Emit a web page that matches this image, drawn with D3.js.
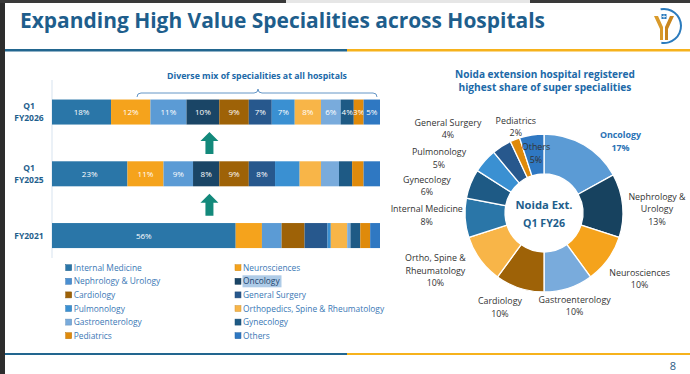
<!DOCTYPE html>
<html><head><meta charset="utf-8">
<script src="https://cdn.jsdelivr.net/npm/d3@7"></script>
<style>
body{margin:0;background:#fff;}
svg{display:block;font-family:"Open Sans","Noto Sans",sans-serif;}
</style>
</head><body>
<svg id="c" width="690" height="374"></svg>
<script>
// ---------- DATA ----------
const title = "Expanding High Value Specialities across Hospitals";
const leftSubtitle = "Diverse mix of specialities at all hospitals";
const rightTitle = ["Noida extension hospital registered", "highest share of super specialities"];
const specialities = ["Internal Medicine","Neurosciences","Nephrology & Urology","Oncology","Cardiology","General Surgery","Pulmonology","Orthopedics, Spine & Rheumatology","Gastroenterology","Gynecology","Pediatrics","Others"];
const periods = ["Q1 FY2026","Q1 FY2025","FY2021"];
const periodLabels = [["Q1","FY2026"],["Q1","FY2025"],["FY2021"]];
const share_Q1FY2026 = [18,12,11,10,9,7,7,8,6,4,3,5];
const share_Q1FY2025 = [23,11,9,8,9,8,7.5,6.5,5.5,4,3.5,5];
const share_FY2021   = [56,8,6,0,7,7,1,5,1,3,3,3];
const labelledSegments = [12,6,1]; // number of segments carrying a % label per bar
const donutCategories = ["Oncology","Nephrology & Urology","Neurosciences","Gastroenterology","Cardiology","Ortho, Spine & Rheumatology","Internal Medicine","Gynecology","Pulmonology","General Surgery","Pediatrics","Others"];
const donutShare = [17,13,10,10,10,10,8,6,5,4,2,5];
const donutCenter = ["Noida Ext.","Q1 FY26"];
const pageNumber = "8";

// ---------- STYLE ----------
const barColors = ["#2a76a8","#f5a31c","#5b9bd5","#1a4566","#9e6207","#27588d","#3a90d2","#f8b548","#79abdc","#1e5a85","#df8a0b","#2f78c2"];
const legendColors = ["#2a76a8","#f5a31c","#4a8fd2","#1a4566","#9e6207","#27588d","#3a90d2","#f8b548","#79abdc","#1e5a85","#df8a0b","#2f78c2"];
const donutColors = ["#5b9bd5","#17425f","#f5a31c","#79abdc","#9e6207","#f8b548","#2a76a8","#1e5a85","#3a90d2","#27588d","#df8a0b","#2f78c2"];
const donutLabelLines = {"Nephrology & Urology":["Nephrology &","Urology"],"Ortho, Spine & Rheumatology":["Ortho, Spine &","Rheumatology"]};
const donutLabelNudge = [[19.5,25],[1.5,7],[5,0],[-4,-13.5],[-9.5,-12],[-18,-8],[-5.5,-4.5],[-13,14],[-21,19.5],[-36,10.5],[13,18],[9.5,51]];
const navy = "#1e5e8c", accent = "#2069a8";

const svg = d3.select("#c");
function fit(t, w){ const l = t.node().getComputedTextLength(); const fs = parseFloat(t.attr("font-size")); t.attr("font-size", (fs*w/l).toFixed(2)); return t; }

// frame
svg.append("rect").attr("x",0).attr("y",0).attr("width",690).attr("height",374).attr("fill","#fff");
svg.append("rect").attr("x",0).attr("y",0).attr("width",5).attr("height",374).attr("fill","#2d2d2d");
svg.append("rect").attr("x",0).attr("y",0).attr("width",286).attr("height",3).attr("fill","#3a3a3a");
svg.append("rect").attr("x",286).attr("y",0).attr("width",244).attr("height",3).attr("fill","#e6e6e6");
svg.append("rect").attr("x",530).attr("y",0).attr("width",160).attr("height",3).attr("fill","#3a3a3a");

// title
fit(svg.append("text").attr("x",20).attr("y",28).attr("font-size",20).attr("font-weight",700).attr("fill",navy).text(title),525);
// header / footer rules
[[49,2.5],[353,2]].forEach(([y,h])=>{
  svg.append("rect").attr("x",5).attr("y",y).attr("width",342).attr("height",h).attr("fill","#22668f");
  svg.append("rect").attr("x",347).attr("y",y).attr("width",343).attr("height",h).attr("fill","#f6b21c");
});
svg.append("text").attr("x",673).attr("y",370).attr("text-anchor","middle").attr("font-size",11).attr("fill","#2b5b85").text(pageNumber);

// logo
const lg = svg.append("g").attr("transform","translate(664,26)");
lg.append("path").attr("d", d3.arc().innerRadius(16).outerRadius(18).startAngle(-0.2).endAngle(Math.PI*1.05)()).attr("fill","#2b7bbd");
lg.append("path").attr("d","M-10,-10 L-6,-10 L-1,1 L-1,14 L-4,14 L-4,3 Z").attr("fill","#d99a2b");
lg.append("path").attr("d","M10,-10 L6,-10 L1,1 L1,14 L4,14 L4,3 Z").attr("fill","#c9861f");
lg.append("rect").attr("x",-2.5).attr("y",-12).attr("width",5).attr("height",5).attr("fill","#2b7bbd");
lg.append("path").attr("d","M0,-11.5 V-7.5 M-2,-9.5 H2").attr("stroke","#fff").attr("stroke-width",0.8);

// ---------- LEFT: stacked bars ----------
const x = d3.scaleLinear().domain([0,100]).range([52,380]);
const y = d3.scaleBand().domain(periods).range([81,266.6]).paddingInner(0.595).paddingOuter(0.3);
const seriesByPeriod = [share_Q1FY2026, share_Q1FY2025, share_FY2021];

svg.append("line").attr("x1",52).attr("x2",52).attr("y1",80).attr("y2",258).attr("stroke","#e4edf5").attr("stroke-width",1.5);

fit(svg.append("text").attr("x",257).attr("y",79).attr("text-anchor","middle").attr("font-size",9).attr("font-weight",700).attr("fill",accent).text(leftSubtitle),180);
svg.append("path").attr("d","M137,97 Q137,93 141,93 L254,93 Q258,93 258,89 Q258,93 262,93 L373,93 Q377,93 377,97")
  .attr("fill","none").attr("stroke","#6596c6").attr("stroke-width",1);

const stackRows = periods.map((p,i)=>{ const o={period:p}; specialities.forEach((s,j)=>o[s]=seriesByPeriod[i][j]); return o; });
const stacked = d3.stack().keys(specialities)(stackRows);
stacked.forEach((layer,j)=>{
  svg.append("g").selectAll("rect").data(layer).join("rect")
    .attr("x",d=>x(d[0])).attr("width",d=>Math.max(0,x(d[1])-x(d[0])))
    .attr("y",d=>y(d.data.period)).attr("height",y.bandwidth())
    .attr("fill",barColors[j]);
  svg.append("g").selectAll("text").data(layer.filter((d,i)=>j<labelledSegments[i])).join("text")
    .attr("x",d=>(x(d[0])+x(d[1]))/2).attr("y",d=>y(d.data.period)+y.bandwidth()/2+3)
    .attr("text-anchor","middle").attr("font-size",8).attr("fill","#fff")
    .text(d=>d.data[layer.key]+"%");
});
// period labels
periods.forEach((p,i)=>{
  const lines = periodLabels[i];
  const cy = y(p)+y.bandwidth()/2;
  lines.forEach((t,k)=>{
    svg.append("text").attr("x",29).attr("y",cy+3+(k-(lines.length-1)/2)*12.2)
      .attr("text-anchor","middle").attr("font-size",8.5).attr("font-weight",700).attr("fill",navy).text(t);
  });
});
// arrows between bars
for(let i=0;i<periods.length-1;i++){
  const top = y(periods[i])+y.bandwidth(), bot = y(periods[i+1]);
  const cy = (top+bot)/2, ax = x(48);
  svg.append("path").attr("d",`M${ax},${cy-11} L${ax+9},${cy-2} L${ax+4},${cy-2} L${ax+4},${cy+11} L${ax-4},${cy+11} L${ax-4},${cy-2} L${ax-9},${cy-2} Z`)
    .attr("fill","#13897b");
}
// legend
const leg = svg.append("g");
specialities.forEach((s,i)=>{
  const col = i%2, row = Math.floor(i/2);
  const lx = col? 235 : 65.7, ly = 267.7 + row*13.6;
  if(s==="Oncology") leg.append("rect").attr("x",lx+7.5).attr("y",ly-6).attr("width",39).attr("height",12).attr("fill","#aecbe7");
  leg.append("rect").attr("x",lx).attr("y",ly-3).attr("width",6).attr("height",6).attr("fill",legendColors[i]).attr("stroke",d3.color(legendColors[i]).darker(0.5)).attr("stroke-width",0.5);
  leg.append("text").attr("x",lx+8).attr("y",ly+3).attr("font-size",8.4).attr("fill",s==="Oncology"?"#1d4670":"#3a78b5").text(s);
});

// ---------- RIGHT: donut ----------
rightTitle.forEach((t,k)=>{
  fit(svg.append("text").attr("x",545).attr("y",78+k*12.5).attr("text-anchor","middle").attr("font-size",9.5).attr("font-weight",700).attr("fill",accent).text(t), k?173:180);
});
const cx = 544, cy = 213;
const pie = d3.pie().sort(null).value(d=>d.v);
const arcs = pie(donutCategories.map((c,i)=>({c, v:donutShare[i], i})));
const arc = d3.arc().innerRadius(39).outerRadius(79);
const labelArc = d3.arc().innerRadius(112).outerRadius(112);
const dg = svg.append("g").attr("transform",`translate(${cx},${cy})`);
dg.selectAll("path").data(arcs).join("path").attr("d",arc).attr("fill",(d,i)=>donutColors[i]).attr("stroke","#fff").attr("stroke-width",1.3);
fit(dg.append("text").attr("x",0).attr("y",-4).attr("text-anchor","middle").attr("font-size",12).attr("font-weight",700).attr("fill",navy).text(donutCenter[0]),57);
fit(dg.append("text").attr("x",0).attr("y",14).attr("text-anchor","middle").attr("font-size",12).attr("font-weight",700).attr("fill",navy).text(donutCenter[1]),42);
arcs.forEach((d,i)=>{
  const [px,py] = labelArc.centroid(d);
  const lx = px + donutLabelNudge[i][0], lyc = py + donutLabelNudge[i][1];
  const lines = (donutLabelLines[d.data.c] || [d.data.c]).concat([d.data.v+"%"]);
  const isTop = i===0;
  lines.forEach((t,k)=>{
    dg.append("text").attr("x",lx).attr("y",lyc+3+(k-(lines.length-1)/2)*12.5)
      .attr("text-anchor","middle").attr("font-size",8.9)
      .attr("font-weight",isTop?700:400).attr("fill",isTop?"#2a72b5":"#333")
      .text(t);
  });
});
</script>
</body></html>
